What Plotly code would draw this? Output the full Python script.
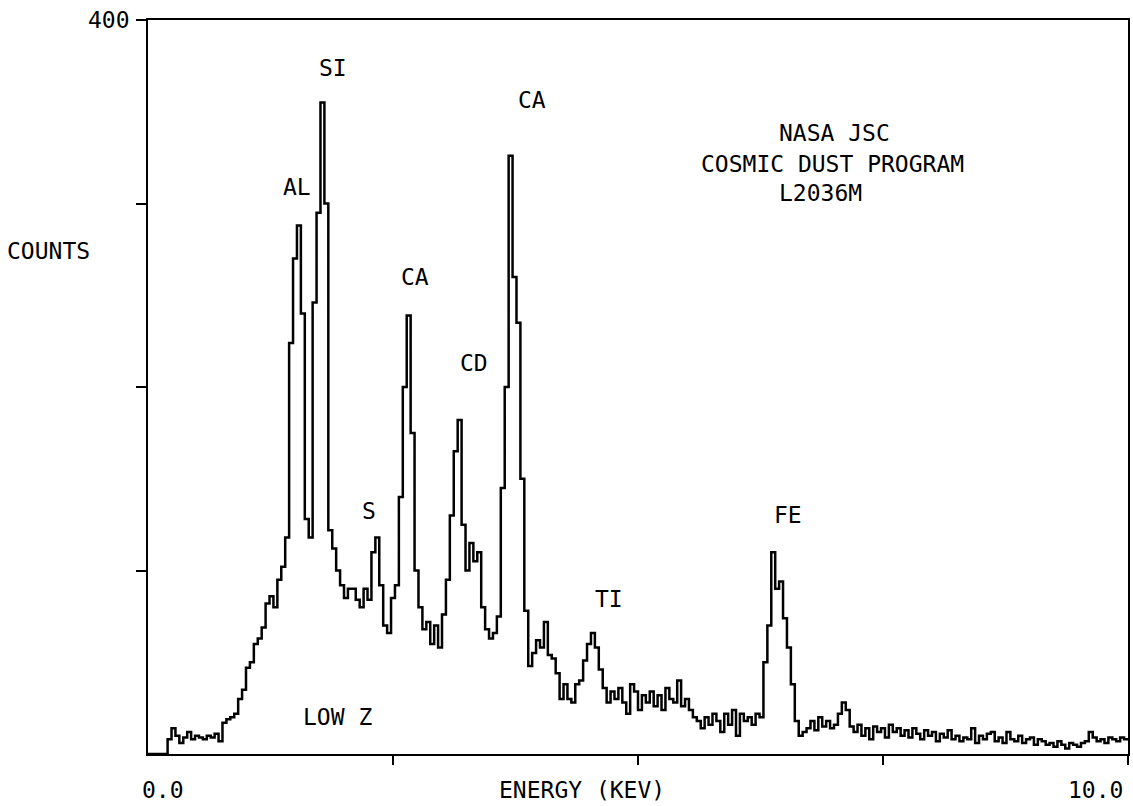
import plotly.graph_objects as go

# ---- data -------------------------------------------------------------
CHANNEL_KEV = 0.04          # width of one spectrum channel (keV)
counts = [
    0, 0, 0, 0, 0, 8, 14, 10, 6, 9,
    12, 8, 10, 9, 8, 10, 9, 11, 7, 17,
    19, 20, 22, 30, 35, 47, 50, 60, 63, 69,
    82, 86, 80, 95, 102, 118, 224, 270, 288, 240,
    128, 118, 246, 295, 355, 300, 122, 112, 100, 92,
    85, 90, 90, 84, 80, 90, 84, 110, 118, 92,
    70, 66, 85, 92, 140, 200, 239, 175, 100, 80,
    68, 72, 60, 70, 58, 76, 95, 130, 165, 182,
    125, 100, 115, 105, 110, 80, 68, 63, 66, 75,
    145, 200, 326, 260, 235, 150, 78, 48, 55, 62,
    58, 72, 54, 52, 44, 30, 38, 30, 28, 38,
    40, 51, 60, 66, 58, 46, 36, 28, 34, 30,
    36, 28, 22, 38, 34, 24, 32, 28, 34, 26,
    32, 24, 36, 30, 28, 40, 26, 30, 24, 20,
    18, 14, 20, 16, 22, 18, 12, 22, 16, 24,
    10, 22, 18, 20, 16, 22, 20, 50, 70, 110,
    90, 94, 74, 58, 38, 18, 10, 12, 14, 18,
    13, 20, 15, 18, 14, 16, 22, 28, 24, 15,
    12, 16, 10, 14, 8, 15, 12, 14, 9, 16,
    12, 14, 10, 13, 9, 14, 11, 8, 13, 10,
    12, 7, 11, 9, 13, 8, 10, 7, 9, 8,
    14, 6, 10, 8, 11, 12, 7, 9, 6, 12,
    8, 7, 10, 6, 8, 9, 5, 8, 7, 5,
    6, 4, 7, 5, 3, 6, 5, 4, 6, 7,
    12, 9, 7, 8, 6, 9, 8, 7, 9, 8,
]
energy_edges = [i * CHANNEL_KEV for i in range(len(counts) + 1)]
step_counts = counts + [counts[-1]]

peak_labels = ["SI", "AL", "CA", "CA", "CD", "S", "TI", "FE", "LOW Z"]
info_lines = ["NASA JSC", "COSMIC DUST PROGRAM", "L2036M"]
y_tick_vals = [100, 200, 300, 400]
x_tick_vals = [2.5, 5.0, 7.5, 10.0]

# ---- figure -----------------------------------------------------------
FONT = "DejaVu Sans Mono"
fig = go.Figure()
fig.add_trace(go.Scatter(
    x=energy_edges, y=step_counts, mode="lines",
    line=dict(color="black", width=2.5, shape="hv"),
    hoverinfo="skip", showlegend=False,
))

# label positions in paper coordinates
peak_pos = [(0.1884, 0.9346), (0.1517, 0.7725), (0.3921, 0.8910), (0.2729, 0.6499),
            (0.3330, 0.5327), (0.2250, 0.3310), (0.4705, 0.2112), (0.6527, 0.3256),
            (0.1935, 0.0504)]
ann = []
for t, (px, py) in zip(peak_labels, peak_pos):
    ann.append(dict(text=t, x=px, y=py, xref="paper", yref="paper", showarrow=False,
                    xanchor="center", yanchor="middle", font=dict(family=FONT, size=23, color="black")))
info_pos = [(0.6415, 0.8460), (0.5621, 0.8038), (0.6415, 0.7643)]
for t, (px, py) in zip(info_lines, info_pos):
    ann.append(dict(text=t, x=px, y=py, xref="paper", yref="paper", showarrow=False,
                    xanchor="left", yanchor="middle", font=dict(family=FONT, size=23, color="black")))
other = [("COUNTS", -0.1018, 0.6853), ("ENERGY (KEV)", 0.443, -0.049),
         ("0.0", 0.0153, -0.049), ("10.0", 0.9664, -0.049), ("400", -0.0397, 1.0)]
for t, px, py in other:
    ann.append(dict(text=t, x=px, y=py, xref="paper", yref="paper", showarrow=False,
                    xanchor="center", yanchor="middle", font=dict(family=FONT, size=23, color="black")))

fig.update_layout(
    width=1133, height=806,
    margin=dict(l=148, r=3, t=20, b=52),
    paper_bgcolor="white", plot_bgcolor="white",
    annotations=ann,
    xaxis=dict(range=[0, 10], showgrid=False, zeroline=False, showline=True,
               linecolor="black", linewidth=2.4, mirror=True,
               ticks="outside", ticklen=9, tickwidth=2, tickcolor="black",
               tickvals=x_tick_vals, showticklabels=False),
    yaxis=dict(range=[0, 400], showgrid=False, zeroline=False, showline=True,
               linecolor="black", linewidth=2.4, mirror=True,
               ticks="outside", ticklen=10, tickwidth=2, tickcolor="black",
               tickvals=y_tick_vals, showticklabels=False),
)
fig.write_html("out.html", config={"displayModeBar": False},
               post_script="document.body.style.margin='0';document.body.style.overflow='hidden';")
